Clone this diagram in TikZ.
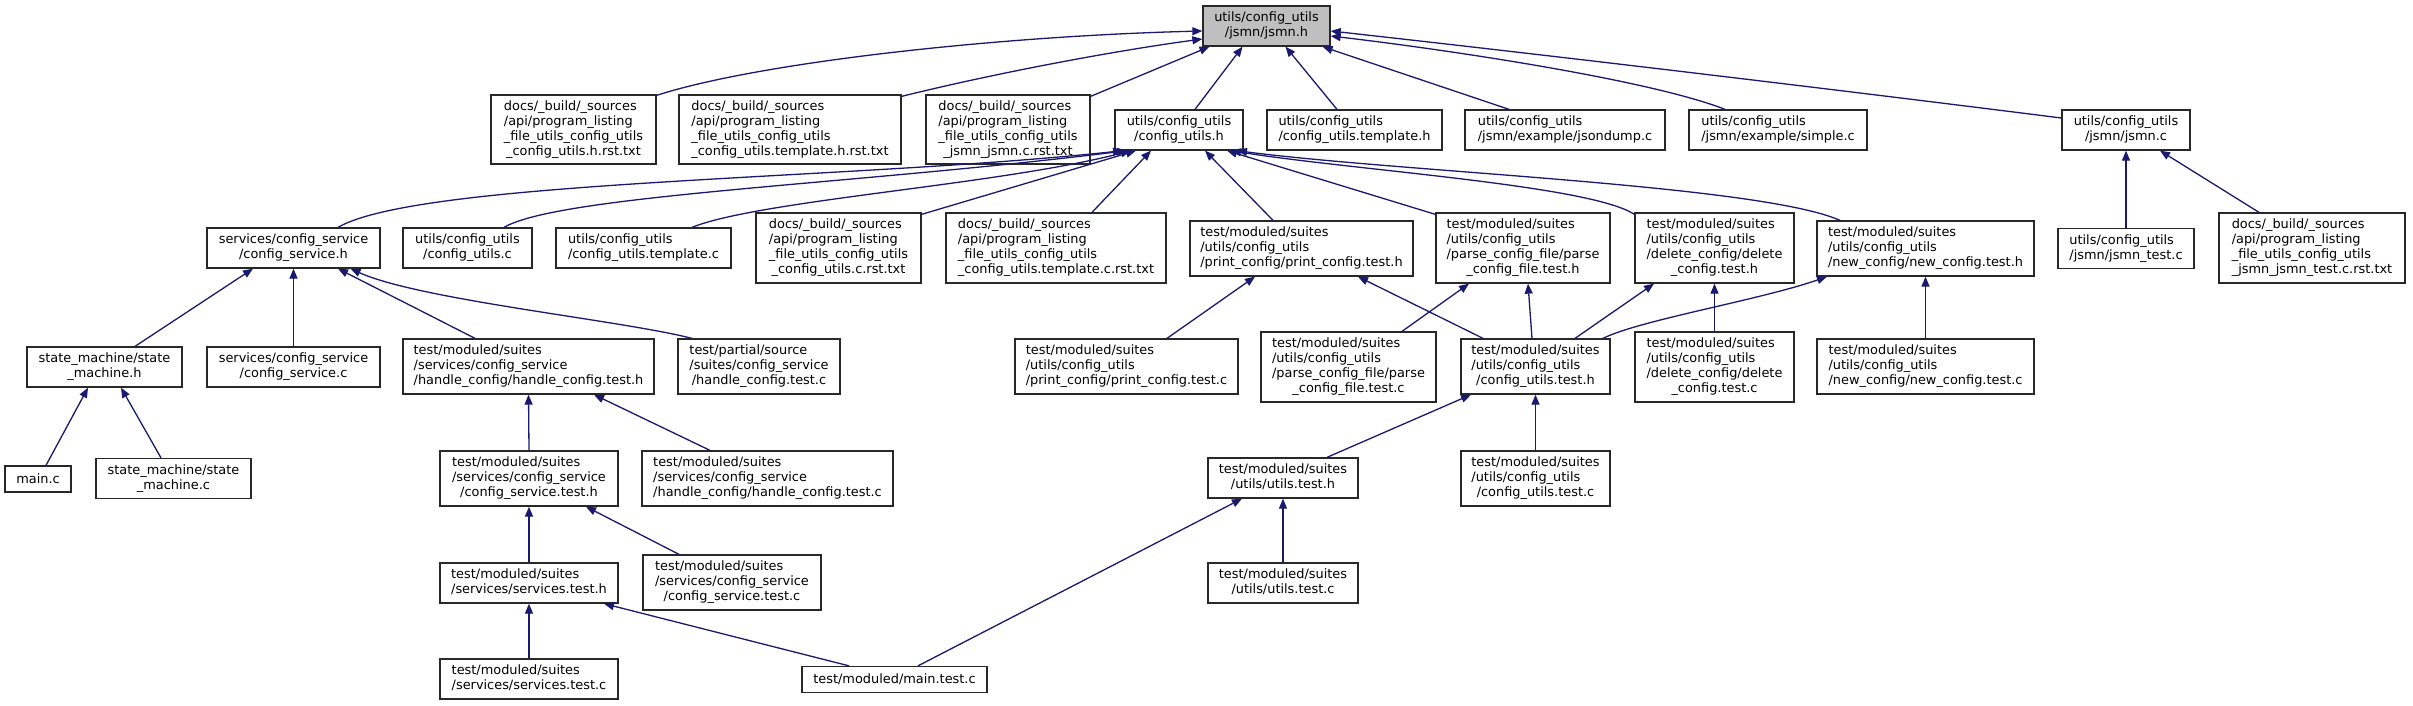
\documentclass[tikz,border=0pt]{standalone}
\usepackage{fontspec}
\setmainfont{DejaVu Sans}
\usetikzlibrary{arrows.meta}
\definecolor{edgeblue}{HTML}{191970}
\definecolor{rootgray}{HTML}{BFBFBF}
\definecolor{boxline}{HTML}{282828}
\newcommand{\LB}[2]{\begin{tabular}{@{}l@{}}#1\\\multicolumn{1}{@{}c@{}}{#2}\end{tabular}}
\newcommand{\NB}[6]{\node[box,minimum width=#4pt,minimum height=#5pt] (#1) at (#2,#3) {#6};}
\newcommand{\DOCS}{docs/\_build/\_sources\\/api/program\_listing\\\_file\_utils\_config\_utils}
\newcommand{\TMS}{test/moduled/suites}
\begin{document}
\begin{tikzpicture}[x=1pt,y=-1pt,
  box/.style={draw=boxline,line width=1.3pt,rectangle,inner sep=0pt,fill=white,
    font=\fontsize{12.9}{15}\selectfont,text=black},
  dep/.style={draw=edgeblue,line width=1.3pt,-{Triangle[length=10pt,width=8pt]}}]
\fill[white] (0,0) rectangle (2413,705);
\useasboundingbox (0,0) rectangle (2413,705);

% row 1
\node[box,fill=rootgray,minimum width=127pt,minimum height=40pt] (jsmnh) at (1266.5,26) {\LB{utils/config\_utils}{/jsmn/jsmn.h}};

% row 2
\NB{d1}{573.5}{129.5}{165}{69}{\LB{\DOCS}{\_config\_utils.h.rst.txt}}
\NB{d2}{790}{129.5}{222}{69}{\LB{\DOCS}{\_config\_utils.template.h.rst.txt}}
\NB{d3}{1008}{129.5}{164}{69}{\LB{\DOCS}{\_jsmn\_jsmn.c.rst.txt}}
\NB{cuh}{1179}{130}{128}{40}{\LB{utils/config\_utils}{/config\_utils.h}}
\NB{cuth}{1354.5}{130}{175}{40}{\LB{utils/config\_utils}{/config\_utils.template.h}}
\NB{jsondump}{1565}{130}{200}{40}{\LB{utils/config\_utils}{/jsmn/example/jsondump.c}}
\NB{simple}{1778}{130}{178}{40}{\LB{utils/config\_utils}{/jsmn/example/simple.c}}
\NB{jsmnc}{2126}{130}{128}{40}{\LB{utils/config\_utils}{/jsmn/jsmn.c}}

% row 3
\NB{csh}{293.5}{248}{173}{40}{\LB{services/config\_service}{/config\_service.h}}
\NB{cuc}{467.5}{248}{129}{40}{\LB{utils/config\_utils}{/config\_utils.c}}
\NB{cutc}{643.5}{248}{175}{40}{\LB{utils/config\_utils}{/config\_utils.template.c}}
\NB{d4}{838.5}{248}{165}{70}{\LB{\DOCS}{\_config\_utils.c.rst.txt}}
\NB{d5}{1056}{248}{220}{70}{\LB{\DOCS}{\_config\_utils.template.c.rst.txt}}
\NB{pch}{1301.5}{248.5}{223}{55}{\LB{\TMS\\/utils/config\_utils}{/print\_config/print\_config.test.h}}
\NB{pfh}{1523}{248}{174}{70}{\LB{\TMS\\/utils/config\_utils\\/parse\_config\_file/parse}{\_config\_file.test.h}}
\NB{dch}{1714.5}{248}{159}{70}{\LB{\TMS\\/utils/config\_utils\\/delete\_config/delete}{\_config.test.h}}
\NB{nch}{1925.5}{248.5}{217}{55}{\LB{\TMS\\/utils/config\_utils}{/new\_config/new\_config.test.h}}
\NB{jtc}{2126}{248.5}{136}{40}{\LB{utils/config\_utils}{/jsmn/jsmn\_test.c}}
\NB{d6}{2312}{248}{186}{70}{\LB{\DOCS}{\_jsmn\_jsmn\_test.c.rst.txt}}

% row 4
\NB{smh}{104.5}{367}{155}{40}{\LB{state\_machine/state}{\_machine.h}}
\NB{csc}{293.5}{367}{173}{40}{\LB{services/config\_service}{/config\_service.c}}
\NB{hch}{528.5}{366.5}{251}{55}{\LB{\TMS\\/services/config\_service}{/handle\_config/handle\_config.test.h}}
\NB{phc}{759}{366.5}{162}{55}{\LB{test/partial/source\\/suites/config\_service}{/handle\_config.test.c}}
\NB{pcc}{1126.5}{366.5}{223}{55}{\LB{\TMS\\/utils/config\_utils}{/print\_config/print\_config.test.c}}
\NB{pfc}{1348.5}{367}{175}{70}{\LB{\TMS\\/utils/config\_utils\\/parse\_config\_file/parse}{\_config\_file.test.c}}
\NB{cutsh}{1535.5}{366.5}{149}{55}{\LB{\TMS\\/utils/config\_utils}{/config\_utils.test.h}}
\NB{dcc}{1714.5}{367}{159}{70}{\LB{\TMS\\/utils/config\_utils\\/delete\_config/delete}{\_config.test.c}}
\NB{ncc}{1925.5}{366.5}{217}{55}{\LB{\TMS\\/utils/config\_utils}{/new\_config/new\_config.test.c}}

% row 5
\NB{mainc}{38}{479}{66}{26}{main.c}
\NB{smc}{173.5}{478.5}{155}{40}{\LB{state\_machine/state}{\_machine.c}}
\NB{cst}{529}{478.5}{178}{55}{\LB{\TMS\\/services/config\_service}{/config\_service.test.h}}
\NB{hcc}{767.5}{478.5}{251}{55}{\LB{\TMS\\/services/config\_service}{/handle\_config/handle\_config.test.c}}
\NB{uth}{1283}{478}{150}{40}{\LB{\TMS}{/utils/utils.test.h}}
\NB{cutsc}{1535.5}{478.5}{149}{55}{\LB{\TMS\\/utils/config\_utils}{/config\_utils.test.c}}

% row 6
\NB{sth}{529}{583}{178}{40}{\LB{\TMS}{/services/services.test.h}}
\NB{cstc}{732}{582.5}{178}{55}{\LB{\TMS\\/services/config\_service}{/config\_service.test.c}}
\NB{utc}{1283}{583}{150}{40}{\LB{\TMS}{/utils/utils.test.c}}

% row 7
\NB{stc}{529}{679}{178}{40}{\LB{\TMS}{/services/services.test.c}}
\NB{mtc}{894.5}{679.5}{185}{26}{test/moduled/main.test.c}

% edges into jsmn.h
\draw[dep] ([yshift=-1pt]d1.north east) .. controls (760,62) and (1000,36) .. ([yshift=-5pt]jsmnh.west);
\draw[dep] ([yshift=-2pt]d2.north east) .. controls (1000,72) and (1120,50) .. ([yshift=-13pt]jsmnh.west);
\draw[dep] ([yshift=-2pt]d3.north east) -- ([xshift=-57pt]jsmnh.south);
\draw[dep] ([xshift=16pt]cuh.north) -- ([xshift=-24pt]jsmnh.south);
\draw[dep] ([xshift=-17.5pt]cuth.north) -- ([xshift=19pt]jsmnh.south);
\draw[dep] ([xshift=-56pt]jsondump.north) -- ([xshift=56pt]jsmnh.south);
\draw[dep] ([xshift=-53pt]simple.north) .. controls (1650,80) and (1450,50) .. ([yshift=-10pt]jsmnh.east);
\draw[dep] ([yshift=12pt]jsmnc.west) .. controls (1800,85) and (1520,52) .. ([yshift=-5pt]jsmnh.east);

% edges into config_utils.h
\draw[dep] ([xshift=44.5pt]csh.north) .. controls (420,180) and (850,180) .. ([xshift=-56pt]cuh.south);
\draw[dep] ([xshift=36.5pt]cuc.north) .. controls (560,195) and (850,185) .. ([xshift=-52pt]cuh.south);
\draw[dep] ([xshift=48.5pt]cutc.north) .. controls (760,200) and (1000,185) .. ([xshift=-48pt]cuh.south);
\draw[dep] ([yshift=-2pt]d4.north east) -- ([xshift=-43pt]cuh.south);
\draw[dep] ([xshift=36pt]d5.north) -- ([xshift=-28pt]cuh.south);
\draw[dep] ([xshift=-28.5pt]pch.north) -- ([xshift=26pt]cuh.south);
\draw[dep] ([yshift=-2pt]pfh.north west) -- ([xshift=48pt]cuh.south);
\draw[dep] ([yshift=-2pt]dch.north west) .. controls (1590,185) and (1350,170) .. ([xshift=52pt]cuh.south);
\draw[dep] ([xshift=-85.5pt]nch.north) .. controls (1760,185) and (1400,172) .. ([xshift=58pt]cuh.south);

% edges into config_service.h
\draw[dep] ([xshift=30.5pt]smh.north) -- ([xshift=-40.5pt]csh.south);
\draw[dep] (csc.north) -- (csh.south);
\draw[dep] ([xshift=-53.5pt]hch.north) -- ([xshift=44.5pt]csh.south);
\draw[dep] ([xshift=-67pt]phc.north) .. controls (620,320) and (420,300) .. ([xshift=57pt]csh.south);

% edges into state_machine.h
\draw[dep] ([xshift=8pt]mainc.north) -- ([xshift=-16.5pt]smh.south);
\draw[dep] ([xshift=-12.5pt]smc.north) -- ([xshift=16.5pt]smh.south);

% edges into handle_config.test.h
\draw[dep] (cst.north) -- (hch.south);
\draw[dep] ([xshift=-57.5pt]hcc.north) -- ([xshift=65.5pt]hch.south);

% edges into config_service.test.h
\draw[dep] (sth.north) -- (cst.south);
\draw[dep] ([xshift=-53pt]cstc.north) -- ([xshift=57pt]cst.south);

% edges into services.test.h
\draw[dep] (stc.north) -- (sth.south);
\draw[dep] ([xshift=-45.5pt]mtc.north) -- ([xshift=75pt]sth.south);

% edges into utils.test.h
\draw[dep] ([xshift=23.5pt]mtc.north) -- ([xshift=-41pt]uth.south);
\draw[dep] (utc.north) -- (uth.south);

% edges into config_utils.test.h
\draw[dep] ([xshift=44pt]uth.north) -- ([xshift=-64.5pt]cutsh.south);
\draw[dep] (cutsc.north) -- (cutsh.south);

% edges from config_utils.test.h and the .c files
\draw[dep] ([xshift=40.5pt]pcc.north) -- ([xshift=-46.5pt]pch.south);
\draw[dep] ([xshift=-52.5pt]cutsh.north) -- ([xshift=56.5pt]pch.south);
\draw[dep] ([xshift=53.5pt]pfc.north) -- ([xshift=-54pt]pfh.south);
\draw[dep] ([xshift=-3.5pt]cutsh.north) -- ([xshift=5pt]pfh.south);
\draw[dep] (dcc.north) -- (dch.south);
\draw[dep] ([xshift=39.5pt]cutsh.north) -- ([xshift=-60.5pt]dch.south);
\draw[dep] (ncc.north) -- (nch.south);
\draw[dep] ([xshift=67.5pt]cutsh.north) .. controls (1640,320) and (1760,300) .. ([xshift=-98.5pt]nch.south);

% edges into jsmn.c
\draw[dep] (jtc.north) -- (jsmnc.south);
\draw[dep] ([xshift=-53pt]d6.north) -- ([xshift=34pt]jsmnc.south);
\end{tikzpicture}
\end{document}
